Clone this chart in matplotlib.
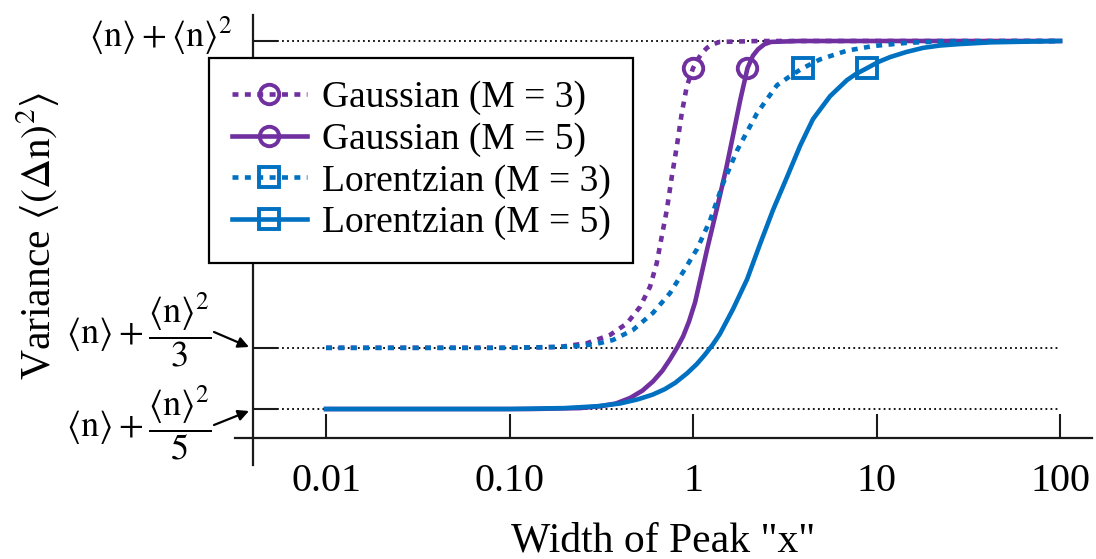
import numpy as np
import matplotlib.pyplot as plt

plt.rcParams['font.family'] = 'Liberation Serif'
plt.rcParams['mathtext.fontset'] = 'stix'

W, H = 1096, 559

PURPLE = '#7030A0'
BLUE = '#0070C0'

# y = excess variance in units of <n>^2 (1/M at narrow width, 1 at wide width)
gauss3_x = [0.01, 0.1, 0.188, 0.264, 0.353, 0.436, 0.514, 0.583, 0.634, 0.675, 0.719,
            0.766, 0.815, 0.868, 0.924, 1.0, 1.06, 1.115, 1.19, 1.264, 1.40, 2.3, 100]
gauss3_y = [0.333, 0.333, 0.335, 0.343, 0.361, 0.386, 0.422, 0.466, 0.517, 0.575, 0.632,
            0.705, 0.770, 0.843, 0.901, 0.941, 0.960, 0.973, 0.985, 0.992, 0.998, 1.0, 1.0]

gauss5_x = [0.01, 0.129, 0.242, 0.311, 0.38, 0.454, 0.53, 0.605, 0.68, 0.749, 0.82, 0.883,
            0.95, 1.026, 1.10, 1.191, 1.351, 1.514, 1.652, 1.804, 1.98, 2.12, 2.26, 2.45,
            2.66, 3.8, 100]
gauss5_y = [0.2, 0.2, 0.202, 0.206, 0.212, 0.224, 0.240, 0.260, 0.283, 0.308, 0.334, 0.358,
            0.390, 0.432, 0.485, 0.546, 0.637, 0.722, 0.795, 0.870, 0.941, 0.968, 0.982, 0.993,
            0.998, 1.0, 1.0]

lor3_x = [0.01, 0.1, 0.188, 0.242, 0.30, 0.366, 0.471, 0.605, 0.749, 0.883, 1.052, 1.238,
          1.456, 1.737, 2.232, 2.869, 3.51, 3.97, 4.92, 6.90, 9.57, 14.7, 22.2, 100]
lor3_y = [0.333, 0.333, 0.335, 0.337, 0.342, 0.350, 0.372, 0.409, 0.452, 0.498, 0.548, 0.610,
          0.690, 0.762, 0.843, 0.904, 0.928, 0.941, 0.960, 0.979, 0.989, 0.996, 0.999, 1.0]

lor5_x = [0.01, 0.1, 0.2, 0.3, 0.4, 0.5, 0.6, 0.7, 0.8, 0.93, 1.05, 1.16, 1.28, 1.40, 1.65,
          1.97, 2.32, 2.73, 3.25, 3.83, 4.5, 5.58, 6.3, 6.9, 7.7, 8.87, 10.3, 11.85, 14.5,
          17.9, 22.0, 27.5, 41.6, 100]
lor5_y = [0.2, 0.2, 0.202, 0.206, 0.212, 0.221, 0.231, 0.243, 0.257, 0.278, 0.298, 0.318,
          0.340, 0.363, 0.417, 0.482, 0.559, 0.633, 0.704, 0.772, 0.830, 0.880, 0.900, 0.915,
          0.928, 0.941, 0.955, 0.965, 0.976, 0.985, 0.990, 0.993, 0.997, 1.0]

# where each curve carries its marker
marker_x = {'g3': 1.0, 'g5': 1.98, 'l3': 3.97, 'l5': 8.87}

x_ticks = [0.01, 0.1, 1, 10, 100]
x_tick_labels = ['0.01', '0.10', '1', '10', '100']
levels = [1.0, 1 / 3, 1 / 5]

fig = plt.figure(figsize=(W / 100, H / 100), dpi=100)
# axes box in pixels: left 235, right 1092, top 15, bottom 465
ax = fig.add_axes([235 / W, (H - 465) / H, (1092 - 235) / W, (465 - 15) / H])
ax.set_xscale('log')
ax.set_xlim(10 ** -2.496, 10 ** 2.174)
ax.set_ylim(0.0783, 1.0565)

# dotted reference levels
for lv in levels:
    ax.hlines(lv, 10 ** -2.267, 100, colors='black', linestyles=(0, (1, 1.8)), lw=1.3, zorder=1)

dots = (0, (1.3, 1.4))
LW = 3.3


def idx(xs, key):
    return [int(np.argmin(np.abs(np.log10(xs) - np.log10(marker_x[key]))))]


ax.plot(gauss3_x, gauss3_y, color=PURPLE, lw=LW, ls=dots, marker='o', ms=14, mew=2.8,
        mfc='none', markevery=idx(gauss3_x, 'g3'), label='Gaussian (M = 3)', zorder=3)
ax.plot(gauss5_x, gauss5_y, color=PURPLE, lw=LW, marker='o', ms=14, mew=2.8,
        mfc='none', markevery=idx(gauss5_x, 'g5'), label='Gaussian (M = 5)', zorder=3)
ax.plot(lor3_x, lor3_y, color=BLUE, lw=LW, ls=dots, marker='s', ms=14, mew=2.8,
        mfc='none', markevery=idx(lor3_x, 'l3'), label='Lorentzian (M = 3)', zorder=3)
ax.plot(lor5_x, lor5_y, color=BLUE, lw=LW, marker='s', ms=14, mew=2.8,
        mfc='none', markevery=idx(lor5_x, 'l5'), label='Lorentzian (M = 5)', zorder=3)

# crossing axes, Excel style
for s in ['top', 'right']:
    ax.spines[s].set_visible(False)
ax.spines['left'].set_position(('data', 10 ** -2.398))
ax.spines['bottom'].set_position(('data', 0.137))
for s in ['left', 'bottom']:
    ax.spines[s].set_linewidth(1.6)
    ax.spines[s].set_color('#1a1a1a')

ax.set_xticks(x_ticks)
ax.set_xticklabels(x_tick_labels)
ax.minorticks_off()
ax.tick_params(axis='x', direction='in', length=17, width=1.5, pad=18, labelsize=29,
               color='#1a1a1a')
ax.set_yticks(levels)
ax.tick_params(axis='y', direction='in', length=17, width=1.5, labelleft=False,
               color='#1a1a1a')

# y level labels
fig.text(233 / W, (H - 47) / H, r'$\langle\mathrm{n}\rangle+\langle\mathrm{n}\rangle^{2}$',
         ha='right', va='baseline', fontsize=26)
fig.text(212 / W, (H - 344) / H, r'$\langle\mathrm{n}\rangle+\dfrac{\langle\mathrm{n}\rangle^{2}}{3}$',
         ha='right', va='baseline', fontsize=26)
fig.text(212 / W, (H - 437) / H, r'$\langle\mathrm{n}\rangle+\dfrac{\langle\mathrm{n}\rangle^{2}}{5}$',
         ha='right', va='baseline', fontsize=26)
arrow = dict(arrowstyle='-|>', lw=1.6, color='black', mutation_scale=16,
             shrinkA=0, shrinkB=0)
ax.annotate('', xy=(249, H - 347), xycoords='figure pixels',
            xytext=(214, H - 332), textcoords='figure pixels', arrowprops=arrow)
ax.annotate('', xy=(249, H - 411), xycoords='figure pixels',
            xytext=(214, H - 425), textcoords='figure pixels', arrowprops=arrow)

fig.text(663 / W, (H - 541) / H, 'Width of Peak "x"', ha='center', va='center', fontsize=30)
fig.text(38 / W, (H - 236) / H, r'Variance $\langle(\Delta\mathrm{n})^{2}\rangle$',
         ha='center', va='center', rotation=90, fontsize=30)

leg = ax.legend(loc='upper left', bbox_to_anchor=(209 / W, 1 - 58 / H),
                bbox_transform=fig.transFigure, borderaxespad=0, fontsize=27,
                frameon=True, fancybox=False, edgecolor='black', framealpha=1,
                handlelength=2.0, handletextpad=0.4, labelspacing=0.19, borderpad=0.6)
leg.get_frame().set_linewidth(1.6)

fig.savefig('out.png', dpi=100)
